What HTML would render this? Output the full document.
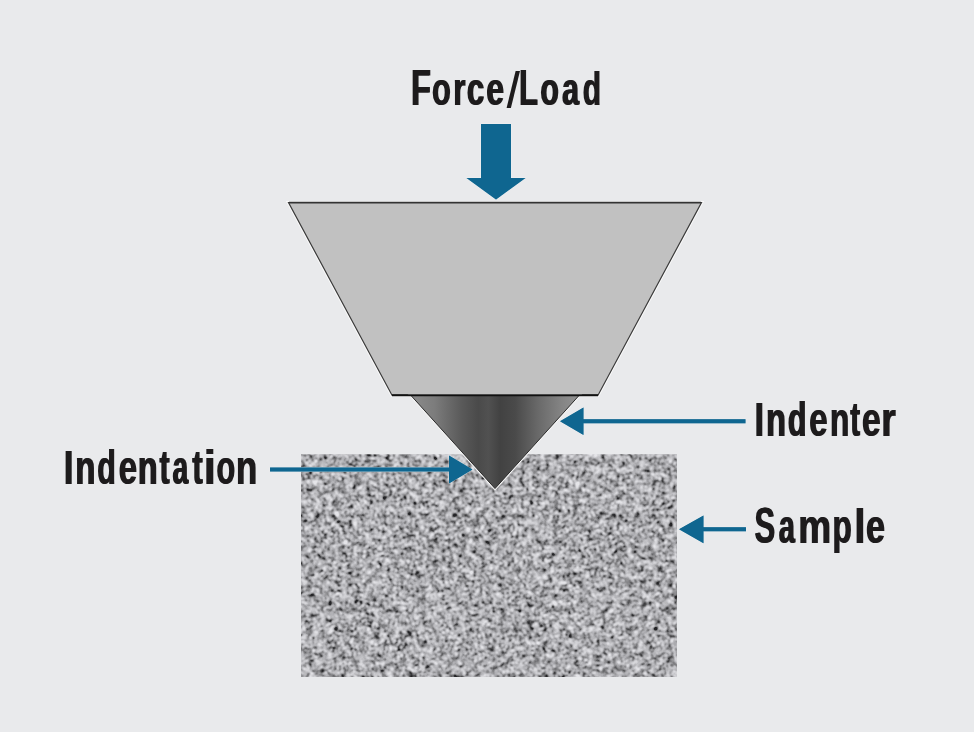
<!DOCTYPE html>
<html><head><meta charset="utf-8">
<style>
html,body{margin:0;padding:0;background:#e9eaec;}
body{width:974px;height:732px;overflow:hidden;}
svg{display:block;}
.lbl text{font-family:"Liberation Sans",sans-serif;font-weight:bold;font-size:100px;fill:#1e1c1d;}
</style></head><body>
<svg width="974" height="732" viewBox="0 0 974 732">
<defs>
<linearGradient id="cone" x1="411" y1="0" x2="579" y2="0" gradientUnits="userSpaceOnUse">
<stop offset="0" stop-color="#8c8c8c"/>
<stop offset="0.14" stop-color="#7c7c7c"/>
<stop offset="0.3" stop-color="#5a5a5a"/>
<stop offset="0.4" stop-color="#4a4a4a"/>
<stop offset="0.46" stop-color="#515151"/>
<stop offset="0.53" stop-color="#424242"/>
<stop offset="0.62" stop-color="#4a4a4a"/>
<stop offset="0.76" stop-color="#6a6a6a"/>
<stop offset="0.9" stop-color="#858585"/>
<stop offset="1" stop-color="#939393"/>
</linearGradient>
<filter id="noise" x="291" y="444" width="397" height="243" filterUnits="userSpaceOnUse" color-interpolation-filters="sRGB">
<feTurbulence type="fractalNoise" baseFrequency="0.8" numOctaves="2" seed="11"/>
<feColorMatrix type="matrix" values="1 0 0 0 0  1 0 0 0 0  1 0 0 0 0  0 0 0 0 1"/>
<feGaussianBlur stdDeviation="1.3" result="hi"/>
<feTurbulence type="fractalNoise" baseFrequency="0.15" numOctaves="2" seed="5"/>
<feColorMatrix type="matrix" values="1 0 0 0 0  1 0 0 0 0  1 0 0 0 0  0 0 0 0 1" result="lo"/>
<feComposite in="hi" in2="lo" operator="arithmetic" k1="0" k2="1" k3="0.15" k4="-0.075"/>
<feColorMatrix type="matrix" values="6.5 0 0 0 -2.75  6.5 0 0 0 -2.75  6.5 0 0 0 -2.75  0 0 0 0 1"/>
<feComponentTransfer><feFuncR type="table" tableValues="0.14 0.47 0.68 0.81 0.9"/><feFuncG type="table" tableValues="0.14 0.47 0.68 0.81 0.9"/><feFuncB type="table" tableValues="0.15 0.48 0.695 0.825 0.915"/></feComponentTransfer>
</filter>
<clipPath id="sclip"><rect x="301" y="454.3" width="376" height="222.7"/></clipPath>
</defs>
<rect width="974" height="732" fill="#e9eaec"/>
<!-- down arrow -->
<path d="M481 124 H511 V178 H525.5 L496 199.5 L466.5 178 H481 Z" fill="#0f6690" stroke="#f4f5f6" stroke-width="1" stroke-opacity="0.6"/>
<!-- trapezoid -->
<path d="M288.5 202.5 H701.5 L598 395.2 H392 Z" fill="none" stroke="#fafafa" stroke-width="3.2"/>
<path d="M288.5 202.5 H701.5 L598 395.2 H392 Z" fill="#c1c1c1" stroke="#3a3a3a" stroke-width="1.2"/>
<line x1="289" y1="202.6" x2="701" y2="202.6" stroke="#333" stroke-width="1.6"/>
<!-- sample -->
<g clip-path="url(#sclip)"><rect x="301" y="454" width="377" height="223" fill="#a8a8aa" filter="url(#noise)"/></g>
<!-- cone -->
<path d="M411 395.5 H579 L495 488.5 Z" fill="none" stroke="#f2f2f2" stroke-width="3"/>
<path d="M411 395.5 H579 L495 488.5 Z" fill="url(#cone)" stroke="#2a2a2a" stroke-width="1"/>
<line x1="392" y1="395.2" x2="598" y2="395.2" stroke="#111" stroke-width="2"/>
<!-- arrows -->
<g fill="#0f6690" stroke="#f4f5f6" stroke-width="1" stroke-opacity="0.5">
<path d="M560 421.2 L583.5 407.5 V419.2 H745.5 V423.2 H583.5 V435 Z"/>
<path d="M472.5 469.5 L449 455.5 V467.5 H270 V471.5 H449 V483.5 Z"/>
<path d="M679 529.2 L703.5 515.5 V527.2 H746 V531.2 H703.5 V543.3 Z"/>
</g>
<g fill="#0f6690">
<path d="M560 421.2 L583.5 407.5 V419.2 H745.5 V423.2 H583.5 V435 Z"/>
<path d="M472.5 469.5 L449 455.5 V467.5 H270 V471.5 H449 V483.5 Z"/>
<path d="M679 529.2 L703.5 515.5 V527.2 H746 V531.2 H703.5 V543.3 Z"/>
<path d="M481 124 H511 V178 H525.5 L496 199.5 L466.5 178 H481 Z"/>
</g>
<g class="lbl" id="lbl" fill="#1e1c1d" opacity="0.995">
<text transform="translate(410.54 105.00) scale(0.3233 0.4942)">F</text>
<text transform="translate(431.50 105.00) scale(0.3079 0.4646)">o</text>
<text transform="translate(452.72 105.00) scale(0.3148 0.4646)">r</text>
<text transform="translate(466.37 105.00) scale(0.3137 0.4646)">c</text>
<text transform="translate(485.86 105.00) scale(0.3168 0.4646)">e</text>
<path d="M506.6 108.1 H509.8 L518.9 71 H515.6 Z"/>
<text transform="translate(518.51 105.00) scale(0.3118 0.4942)">L</text>
<text transform="translate(539.82 105.00) scale(0.3022 0.4646)">o</text>
<text transform="translate(561.61 105.00) scale(0.3038 0.4646)">a</text>
<text transform="translate(582.27 105.00) scale(0.2997 0.4646)">d</text>
<text transform="translate(753.88 435.70) scale(0.3471 0.4898)">I</text>
<text transform="translate(765.56 435.70) scale(0.3251 0.4813)">n</text>
<text transform="translate(787.35 435.70) scale(0.3036 0.4813)">d</text>
<text transform="translate(808.71 435.70) scale(0.3293 0.4813)">e</text>
<text transform="translate(829.41 435.70) scale(0.3168 0.4813)">n</text>
<text transform="translate(849.64 435.70) scale(0.2949 0.4813)">t</text>
<text transform="translate(861.39 435.70) scale(0.3355 0.4813)">e</text>
<text transform="translate(880.78 435.70) scale(0.3668 0.4813)">r</text>
<text transform="translate(63.23 484.00) scale(0.3541 0.4884)">I</text>
<text transform="translate(74.84 484.00) scale(0.3272 0.4758)">n</text>
<text transform="translate(96.75 484.00) scale(0.3036 0.4758)">d</text>
<text transform="translate(118.21 484.00) scale(0.3293 0.4758)">e</text>
<text transform="translate(137.37 484.00) scale(0.3230 0.4758)">n</text>
<text transform="translate(159.04 484.00) scale(0.2981 0.4758)">t</text>
<text transform="translate(172.08 484.00) scale(0.2794 0.4758)">a</text>
<text transform="translate(191.71 484.00) scale(0.3176 0.4758)">t</text>
<text transform="translate(203.15 484.00) scale(0.4373 0.4758)">i</text>
<text transform="translate(215.90 484.00) scale(0.3060 0.4758)">o</text>
<text transform="translate(235.41 484.00) scale(0.3479 0.4758)">n</text>
<text transform="translate(754.01 543.10) scale(0.3105 0.4956)">S</text>
<text transform="translate(778.36 543.10) scale(0.2869 0.4851)">a</text>
<text transform="translate(797.66 543.10) scale(0.3705 0.4851)">m</text>
<text transform="translate(831.92 543.10) scale(0.3155 0.4851)">p</text>
<text transform="translate(853.75 543.10) scale(0.4081 0.4851)">l</text>
<text transform="translate(865.58 543.10) scale(0.3375 0.4851)">e</text>
</g>
<use href="#lbl" x="1.1" opacity="0.995"/>
</svg>
</body></html>
